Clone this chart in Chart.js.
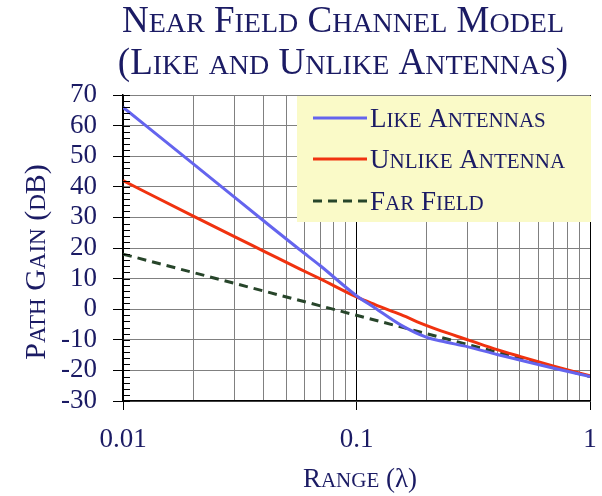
<!DOCTYPE html>
<html>
<head>
<meta charset="utf-8">
<script src="https://cdn.jsdelivr.net/npm/chart.js@4.4.1/dist/chart.umd.min.js"></script>
<style>
  html, body { margin: 0; padding: 0; background: #fff; }
</style>
</head>
<body>
<canvas id="nearFieldChart" width="602" height="496"></canvas>
<script>
// range in wavelengths, gain in dB
const likeRange   = [0.01, 0.02, 0.03, 0.04, 0.057, 0.07, 0.1, 0.12, 0.155, 0.2, 0.23, 0.3, 0.4, 0.5, 0.7, 1];
const likeGain    = [66, 47.5, 36.6, 28.9, 19.5, 14.2, 4.4, 0.4, -5.2, -9.2, -10.4, -12.3, -14.8, -16.6, -19.3, -22];
const unlikeRange = [0.01, 0.02, 0.03, 0.04, 0.057, 0.07, 0.1, 0.12, 0.155, 0.2, 0.23, 0.3, 0.4, 0.5, 0.7, 1];
const unlikeGain  = [42, 30.4, 23.7, 19, 13.2, 9.9, 4, 1.5, -1.8, -5.4, -7.1, -10, -13.2, -15.4, -18.6, -21.8];
const farRange    = [0.01, 0.1, 1];
const farGain     = [18, -2, -22];

const rangeTicks  = [0.01, 0.02, 0.03, 0.04, 0.05, 0.06, 0.07, 0.08, 0.09,
                     0.1, 0.2, 0.3, 0.4, 0.5, 0.6, 0.7, 0.8, 0.9, 1];
const rangeLabelValues = [0.01, 0.1, 1];
const rangeLabels      = ['0.01', '0.1', '1'];

const seriesNames = ['Like Antennas', 'Unlike Antenna', 'Far Field'];

const chartTitle = ['Near Field Channel Model', '(Like and Unlike Antennas)'];
const xTitle = 'Range (λ)';
const yTitle = 'Path Gain (dB)';

const navy = '#1b1b64';
const serif = "'Liberation Serif', 'DejaVu Serif', serif";

function toPoints(xs, ys) {
    return xs.map((x, i) => ({ x: x, y: ys[i] }));
}

// draws text in small caps: lower-case latin letters become smaller capitals
function smallCaps(ctx, text, x, y, big, small, align) {
    const runs = [];
    for (const ch of text) {
        const isSmall = /[a-z]/.test(ch);
        const c = isSmall ? ch.toUpperCase() : ch;
        const last = runs[runs.length - 1];
        if (last && last.small === isSmall) last.t += c;
        else runs.push({ t: c, small: isSmall });
    }
    let total = 0;
    runs.forEach(r => {
        ctx.font = (r.small ? small : big) + 'px ' + serif;
        r.w = ctx.measureText(r.t).width;
        total += r.w;
    });
    let cx = align === 'left' ? x : x - total / 2;
    ctx.textAlign = 'left';
    ctx.textBaseline = 'alphabetic';
    runs.forEach(r => {
        ctx.font = (r.small ? small : big) + 'px ' + serif;
        ctx.fillText(r.t, cx, y);
        cx += r.w;
    });
}

const decorPlugin = {
    id: 'decor',
    afterDatasetsDraw(chart) {
        const ctx = chart.ctx;
        const area = chart.chartArea;
        const yScale = chart.scales.y;

        // minor ticks on the inside of the y axis, every 2 dB
        ctx.save();
        ctx.strokeStyle = '#000';
        ctx.lineWidth = 1;
        ctx.beginPath();
        for (let v = yScale.min; v <= yScale.max; v += 2) {
            const py = Math.round(yScale.getPixelForValue(v)) + 0.5;
            ctx.moveTo(area.left, py);
            ctx.lineTo(area.left + 7, py);
        }
        ctx.stroke();

        // legend box
        const bx = 297, by = area.top + 1, bw = area.right - 297 + 1, bh = 126;
        ctx.fillStyle = '#fafac8';
        ctx.fillRect(bx, by, bw, bh);
        const rowY = [118, 159, 201];
        chart.data.datasets.forEach((ds, i) => {
            ctx.save();
            ctx.strokeStyle = ds.borderColor;
            ctx.lineWidth = ds.borderWidth;
            ctx.setLineDash(ds.borderDash || []);
            ctx.beginPath();
            ctx.moveTo(313, rowY[i]);
            ctx.lineTo(367, rowY[i]);
            ctx.stroke();
            ctx.restore();
            ctx.fillStyle = navy;
            smallCaps(ctx, ds.label, 370, rowY[i] + 9, 27, 21, 'left');
        });

        // titles
        ctx.fillStyle = navy;
        smallCaps(ctx, chartTitle[0], 343, 32, 37, 28, 'center');
        smallCaps(ctx, chartTitle[1], 343, 74, 37, 28, 'center');
        smallCaps(ctx, xTitle, 360, 487, 27, 21, 'center');
        ctx.save();
        ctx.translate(45, 262);
        ctx.rotate(-Math.PI / 2);
        smallCaps(ctx, yTitle, 0, 0, 30, 23, 'center');
        ctx.restore();
        ctx.restore();
    }
};

const isDecade = v => rangeLabelValues.includes(v);

new Chart(document.getElementById('nearFieldChart').getContext('2d'), {
    type: 'line',
    data: {
        datasets: [{
            label: seriesNames[0],
            data: toPoints(likeRange, likeGain),
            borderColor: '#6464ee',
            borderWidth: 3,
            cubicInterpolationMode: 'monotone'
        }, {
            label: seriesNames[1],
            data: toPoints(unlikeRange, unlikeGain),
            borderColor: '#f0320f',
            borderWidth: 3,
            cubicInterpolationMode: 'monotone'
        }, {
            label: seriesNames[2],
            data: toPoints(farRange, farGain),
            borderColor: '#27452a',
            borderWidth: 3,
            borderDash: [9, 6]
        }]
    },
    options: {
        responsive: false,
        animation: false,
        layout: { padding: { left: 0, right: 12, top: 95, bottom: 0 } },
        elements: { point: { radius: 0 } },
        plugins: {
            legend: { display: false },
            tooltip: { enabled: false }
        },
        scales: {
            x: {
                type: 'logarithmic',
                min: 0.01,
                max: 1,
                afterBuildTicks: s => { s.ticks = rangeTicks.map(v => ({ value: v })); },
                afterFit: s => { s.height = 95; s.paddingLeft = 0; s.paddingRight = 0; },
                border: { display: true, color: '#000', width: 1.5 },
                grid: {
                    color: c => isDecade(c.tick.value) ? '#000' : '#808080',
                    tickColor: c => isDecade(c.tick.value) ? '#000' : 'rgba(0,0,0,0)',
                    tickLength: 9
                },
                ticks: {
                    autoSkip: false,
                    maxRotation: 0,
                    padding: 14,
                    color: navy,
                    font: { family: serif, size: 27 },
                    callback: v => {
                        const i = rangeLabelValues.indexOf(v);
                        return i >= 0 ? rangeLabels[i] : '';
                    }
                }
            },
            y: {
                min: -30,
                max: 70,
                afterFit: s => { s.width = 123; s.paddingTop = 0; s.paddingBottom = 0; },
                border: { display: true, color: '#000', width: 1.5 },
                grid: { color: '#808080', tickColor: '#000', tickLength: 10 },
                ticks: {
                    autoSkip: false,
                    stepSize: 10,
                    padding: 16,
                    color: navy,
                    font: { family: serif, size: 27 }
                }
            }
        }
    },
    plugins: [decorPlugin]
});
</script>
</body>
</html>
